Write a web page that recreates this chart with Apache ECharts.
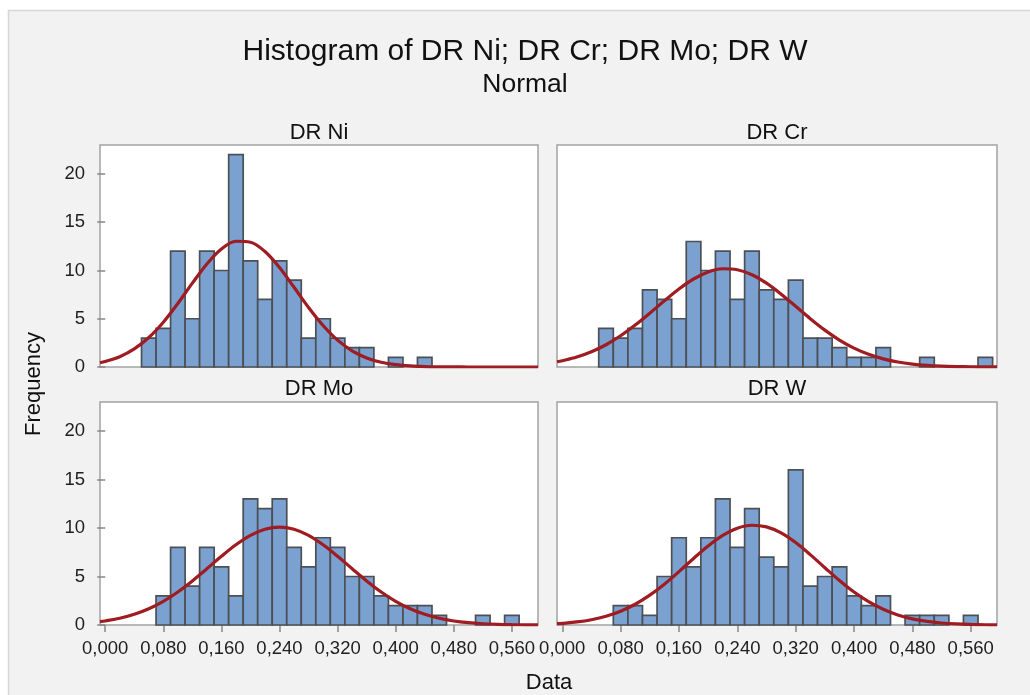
<!DOCTYPE html>
<html>
<head>
<meta charset="utf-8">
<script src="https://cdn.jsdelivr.net/npm/echarts@6/dist/echarts.min.js"></script>
<style>
html,body{margin:0;padding:0;background:#ffffff;}
#chart{width:1030px;height:695px;}
</style>
</head>
<body>
<div id="chart"></div>
<script>
// ---------- data ----------
const panelNames = ['DR Ni', 'DR Cr', 'DR Mo', 'DR W'];
const binCenters = [0.06, 0.08, 0.10, 0.12, 0.14, 0.16, 0.18, 0.20, 0.22, 0.24, 0.26, 0.28, 0.30, 0.32, 0.34, 0.36, 0.38, 0.40, 0.42, 0.44, 0.46, 0.48, 0.50, 0.52, 0.54, 0.56, 0.58];
const countsNi = [3, 4, 12, 5, 12, 10, 22, 11, 7, 11, 9, 3, 5, 3, 2, 2, 0, 1, 0, 1, 0, 0, 0, 0, 0, 0, 0];
const countsCr = [4, 3, 4, 8, 7, 5, 13, 10, 12, 7, 12, 8, 7, 9, 3, 3, 2, 1, 1, 2, 0, 0, 1, 0, 0, 0, 1];
const countsMo = [0, 3, 8, 4, 8, 6, 3, 13, 12, 13, 8, 6, 9, 8, 5, 5, 3, 2, 2, 2, 1, 0, 0, 1, 0, 1, 0];
const countsW  = [0, 2, 2, 1, 5, 9, 6, 9, 13, 8, 12, 7, 6, 16, 4, 5, 6, 3, 2, 3, 0, 1, 1, 1, 0, 1, 0];
const binWidth = 0.02;

// fitted normal curves, values read/
const curveX   = [-0.0072, 0.00, 0.02, 0.04, 0.06, 0.08, 0.10, 0.12, 0.14, 0.16, 0.18, 0.20, 0.22, 0.24, 0.26, 0.28, 0.30, 0.32, 0.34, 0.36, 0.38, 0.40, 0.42, 0.44, 0.46, 0.48, 0.50, 0.52, 0.54, 0.56, 0.58, 0.596];
const curveNi  = [0.443, 0.566, 1.065, 1.869, 3.052, 4.645, 6.583, 8.685, 10.67, 12.22, 13.03, 12.93, 11.96, 10.30, 8.26, 6.17, 4.30, 2.78, 1.68, 0.944, 0.494, 0.241, 0.110, 0.046, 0.018, 0.007, 0.002, 0.001, 0, 0, 0, 0];
const curveCr  = [0.540, 0.647, 1.032, 1.577, 2.308, 3.233, 4.342, 5.575, 6.858, 8.084, 9.117, 9.846, 10.18, 10.08, 9.563, 8.682, 7.549, 6.286, 5.009, 3.824, 2.794, 1.955, 1.311, 0.841, 0.516, 0.304, 0.171, 0.092, 0.048, 0.024, 0.011, 0.006];
const curveMo  = [0.342, 0.415, 0.691, 1.101, 1.678, 2.446, 3.410, 4.547, 5.804, 7.085, 8.273, 9.243, 9.879, 10.10, 9.879, 9.243, 8.273, 7.085, 5.804, 4.547, 3.410, 2.446, 1.678, 1.101, 0.691, 0.415, 0.239, 0.131, 0.069, 0.035, 0.017, 0.009];
const curveW   = [0.138, 0.173, 0.315, 0.546, 0.902, 1.425, 2.142, 3.078, 4.213, 5.502, 6.856, 8.147, 9.235, 9.983, 10.29, 10.12, 9.501, 8.500, 7.256, 5.908, 4.587, 3.398, 2.400, 1.618, 1.041, 0.638, 0.373, 0.208, 0.111, 0.056, 0.027, 0.015];

const xTickValues = [0, 0.08, 0.16, 0.24, 0.32, 0.40, 0.48, 0.56];
const yTickValues = [0, 5, 10, 15, 20];

const panelCounts = [countsNi, countsCr, countsMo, countsW];
const panelCurves = [curveNi, curveCr, curveMo, curveW];

// ---------- layout / style ----------
const FONT = "'Liberation Sans', Arial, Helvetica, sans-serif";
const gridRects = [
  {left: 100, top: 145, width: 438, height: 222},
  {left: 557, top: 145, width: 440, height: 222},
  {left: 100, top: 402, width: 438, height: 223},
  {left: 557, top: 402, width: 440, height: 223}
];
const BAR_FILL = '#7ba1d0';
const BAR_STROKE = '#4c5055';
const CURVE = '#9e1c22';

const grids = [], xAxes = [], yAxes = [], series = [];
gridRects.forEach((r, i) => {
  grids.push(Object.assign({show: true, backgroundColor: '#ffffff', borderColor: '#a3a3a3', borderWidth: 1.5}, r));
  const showX = i >= 2, showY = i % 2 === 0;
  xAxes.push({
    type: 'value', gridIndex: i, min: -0.0072, max: 0.596,
    splitLine: {show: false}, axisLine: {show: false},
    axisTick: {show: showX, length: 7, lineStyle: {color: '#888', width: 1.5}, customValues: xTickValues},
    axisLabel: {show: showX, margin: 14, fontSize: 18.5, fontFamily: FONT, color: '#1e1e1e',
      customValues: xTickValues, formatter: v => v.toFixed(3).replace('.', ',')}
  });
  yAxes.push({
    type: 'value', gridIndex: i, min: 0, max: 23,
    splitLine: {show: false}, axisLine: {show: false},
    axisTick: {show: showY, length: 8, lineStyle: {color: '#888', width: 1.5}, customValues: yTickValues},
    axisLabel: {show: showY, margin: 15, fontSize: 18.5, fontFamily: FONT, color: '#1e1e1e', customValues: yTickValues}
  });
  const barData = [];
  binCenters.forEach((c, k) => { if (panelCounts[i][k] > 0) barData.push([c, panelCounts[i][k]]); });
  series.push({
    type: 'custom', xAxisIndex: i, yAxisIndex: i, data: barData, z: 2,
    renderItem: function (params, api) {
      const x = api.value(0), n = api.value(1);
      const p0 = api.coord([x - binWidth / 2, n]);
      const p1 = api.coord([x + binWidth / 2, 0]);
      return {type: 'rect', shape: {x: p0[0], y: p0[1], width: p1[0] - p0[0], height: p1[1] - p0[1]},
        style: {fill: BAR_FILL, stroke: BAR_STROKE, lineWidth: 1.7}};
    }
  });
  series.push({
    type: 'line', xAxisIndex: i, yAxisIndex: i, smooth: 0.35, symbol: 'none', z: 3,
    data: curveX.map((x, k) => [x, panelCurves[i][k]]),
    lineStyle: {color: CURVE, width: 3.2}
  });
});

function txt(text, x, y, size, rot) {
  return {type: 'text', x: x, y: y, rotation: rot || 0, z: 10,
    style: {text: text, fontSize: size, fontFamily: FONT, fill: '#111', align: 'center', verticalAlign: 'middle'}};
}

const option = {
  animation: false,
  backgroundColor: '#ffffff',
  grid: grids, xAxis: xAxes, yAxis: yAxes, series: series,
  graphic: [
    {type: 'rect', z: -10, shape: {x: 8.5, y: 10.5, width: 1030, height: 700},
      style: {fill: '#f2f2f2', stroke: '#d6d6d6', lineWidth: 1.5}},
    txt('Histogram of DR Ni; DR Cr; DR Mo; DR W', 525, 52, 30),
    txt('Normal', 525, 85, 26.5),
    txt(panelNames[0], 319, 133, 22),
    txt(panelNames[1], 777, 133, 22),
    txt(panelNames[2], 319, 389, 22),
    txt(panelNames[3], 777, 389, 22),
    txt('Frequency', 34, 384, 22, Math.PI / 2),
    txt('Data', 549, 683, 22)
  ]
};
const chart = echarts.init(document.getElementById('chart'), null, {renderer: 'canvas'});
chart.setOption(option);
</script>
</body>
</html>
